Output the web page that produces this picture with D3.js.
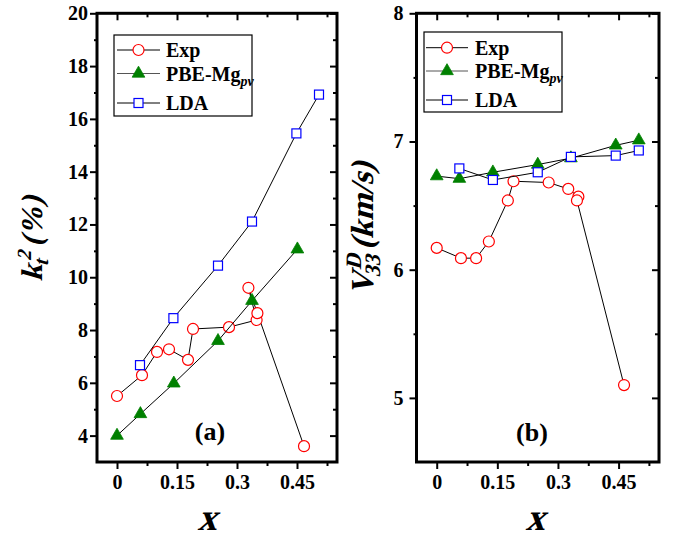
<!DOCTYPE html>
<html>
<head>
<meta charset="utf-8">
<script src="https://cdn.jsdelivr.net/npm/d3@7"></script>
<style>
  body { margin: 0; background: #fff; }
  svg { display: block; font-family: "Liberation Serif", "Times New Roman", serif; }
</style>
</head>
<body>
<svg width="680" height="538"></svg>
<script>
// panel (a): k_t^2 (%)
const expXa = [0, 0.0625, 0.1, 0.13, 0.1775, 0.19, 0.28, 0.349, 0.3285, 0.351, 0.4675];
const expYa = [5.5, 6.29, 7.17, 7.27, 6.87, 8.04, 8.11, 8.38, 9.6, 8.64, 3.6];
const pbeXa = [0, 0.0585, 0.142, 0.2525, 0.3375, 0.451];
const pbeYa = [4.0, 4.82, 5.98, 7.59, 9.11, 11.06];
const ldaXa = [0.0575, 0.141, 0.2525, 0.3375, 0.4485, 0.505];
const ldaYa = [6.67, 8.45, 10.44, 12.11, 15.45, 16.92];

// panel (b): V_33^D (km/s)
const expXb = [0, 0.06, 0.0975, 0.129, 0.176, 0.19, 0.277, 0.3255, 0.3505, 0.347, 0.4635];
const expYb = [6.17, 6.09, 6.09, 6.22, 6.54, 6.69, 6.68, 6.63, 6.57, 6.54, 5.10];
const pbeXb = [0, 0.056, 0.139, 0.25, 0.332, 0.443, 0.5];
const pbeYb = [6.73, 6.71, 6.76, 6.82, 6.87, 6.97, 7.01];
const ldaXb = [0.056, 0.139, 0.25, 0.332, 0.443, 0.5];
const ldaYb = [6.79, 6.70, 6.76, 6.88, 6.89, 6.93];

const xMajor = [0, 0.15, 0.3, 0.45];
const xMinor = [0.075, 0.225, 0.375, 0.525];
const xTickLabels = ["0", "0.15", "0.3", "0.45"];
const yMajorA = [4, 6, 8, 10, 12, 14, 16, 18, 20];
const yMinorA = [5, 7, 9, 11, 13, 15, 17, 19];
const yMajorB = [5, 6, 7, 8];
const yMinorB = [5.5, 6.5, 7.5];
const legendNames = ["Exp", "PBE-Mg", "LDA"];

const svg = d3.select("svg");
const plotTop = 13.3, plotBottom = 462;
const slant = "skewX(-16)"; // serif bold, slanted by hand for the titles

function drawAxes(g, x, y, yMajor, yMinor, yPad) {
    const [x0, x1] = x.range();
    const axisStyle = sel => {
        sel.select(".domain").remove();
        sel.selectAll("line").attr("stroke", "#000").attr("stroke-width", 2);
        sel.selectAll("text").attr("font-size", 20).attr("font-weight", "bold")
            .attr("fill", "#000").attr("font-family", "Liberation Serif");
    };
    // bottom (outward)
    g.append("g").attr("transform", `translate(0,${plotBottom})`)
        .call(d3.axisBottom(x).tickValues(xMajor).tickSize(7).tickPadding(6)
            .tickFormat((d, i) => xTickLabels[i])).call(axisStyle);
    g.append("g").attr("transform", `translate(0,${plotBottom})`)
        .call(d3.axisBottom(x).tickValues(xMinor).tickSize(4).tickFormat("")).call(axisStyle);
    // top (inward)
    g.append("g").attr("transform", `translate(0,${plotTop})`)
        .call(d3.axisTop(x).tickValues(xMajor).tickSize(-7).tickFormat("")).call(axisStyle);
    g.append("g").attr("transform", `translate(0,${plotTop})`)
        .call(d3.axisTop(x).tickValues(xMinor).tickSize(-4).tickFormat("")).call(axisStyle);
    // left (outward)
    g.append("g").attr("transform", `translate(${x0},0)`)
        .call(d3.axisLeft(y).tickValues(yMajor).tickSize(7).tickPadding(yPad).tickFormat(d3.format("d")))
        .call(axisStyle);
    g.append("g").attr("transform", `translate(${x0},0)`)
        .call(d3.axisLeft(y).tickValues(yMinor).tickSize(3).tickFormat("")).call(axisStyle);
    // right (inward)
    g.append("g").attr("transform", `translate(${x1},0)`)
        .call(d3.axisRight(y).tickValues(yMajor).tickSize(-7).tickFormat("")).call(axisStyle);
    g.append("g").attr("transform", `translate(${x1},0)`)
        .call(d3.axisRight(y).tickValues(yMinor).tickSize(-4).tickFormat("")).call(axisStyle);
    // frame
    g.append("rect").attr("x", x0).attr("y", plotTop)
        .attr("width", x1 - x0).attr("height", plotBottom - plotTop)
        .attr("fill", "none").attr("stroke", "#000").attr("stroke-width", 3);
}

const triangle = d3.symbol().type(d3.symbolTriangle).size(70);

function drawSeries(g, x, y, xs, ys, kind) {
    const pts = xs.map((d, i) => [x(d), y(ys[i])]);
    g.append("path").attr("d", d3.line()(pts))
        .attr("fill", "none").attr("stroke", "#000").attr("stroke-width", 1);
    drawMarkers(g, pts, kind);
}

function drawMarkers(g, pts, kind) {
    if (kind === "exp") {
        g.selectAll(null).data(pts).enter().append("circle")
            .attr("cx", d => d[0]).attr("cy", d => d[1]).attr("r", 5.5)
            .attr("fill", "#fff").attr("stroke", "#ff0000").attr("stroke-width", 1.2);
    } else if (kind === "pbe") {
        g.selectAll(null).data(pts).enter().append("path")
            .attr("d", triangle).attr("transform", d => `translate(${d[0]},${d[1]})`)
            .attr("fill", "#008000").attr("stroke", "#008000").attr("stroke-width", 0.8);
    } else {
        g.selectAll(null).data(pts).enter().append("rect")
            .attr("x", d => d[0] - 4.5).attr("y", d => d[1] - 4.5)
            .attr("width", 9).attr("height", 9)
            .attr("fill", "#fff").attr("stroke", "#0000ff").attr("stroke-width", 1.2);
    }
}

function drawLegend(g, bx, by, bw, bh, rows, lx0, lx1, tx) {
    g.append("rect").attr("x", bx).attr("y", by).attr("width", bw).attr("height", bh)
        .attr("fill", "#fff").attr("stroke", "#000").attr("stroke-width", 1.2);
    const kinds = ["exp", "pbe", "lda"];
    rows.forEach((ry, i) => {
        g.append("line").attr("x1", lx0).attr("x2", lx1).attr("y1", ry).attr("y2", ry)
            .attr("stroke", i === 1 ? "#555" : "#000").attr("stroke-width", 1);
        drawMarkers(g, [[(lx0 + lx1) / 2, ry]], kinds[i]);
        const t = g.append("text").attr("x", tx).attr("y", ry + 7)
            .attr("font-size", 20).attr("font-weight", "bold").text(legendNames[i]);
        if (i === 1) {
            t.append("tspan").attr("font-size", 14).attr("font-style", "italic")
                .attr("dy", 5).text("pv");
        }
    });
}

// ---- panel (a)
const xA = d3.scaleLinear().domain([-0.05, 0.55]).range([97, 337]);
const yA = d3.scaleLinear().domain([3, 20]).range([plotBottom, plotTop]);
const gA = svg.append("g");
drawAxes(gA, xA, yA, yMajorA, yMinorA, 2);
drawSeries(gA, xA, yA, expXa, expYa, "exp");
drawSeries(gA, xA, yA, pbeXa, pbeYa, "pbe");
drawSeries(gA, xA, yA, ldaXa, ldaYa, "lda");
drawLegend(gA, 114, 35, 138, 81, [50, 73.5, 103], 117, 160, 166);
gA.append("text").attr("x", 210).attr("y", 440).attr("text-anchor", "middle")
    .attr("font-size", 26).attr("font-weight", "bold").text("(a)");

const labA = gA.append("text").attr("transform", `translate(42,239) rotate(-90) ${slant}`)
    .attr("text-anchor", "middle").attr("font-weight", "bold")
    .attr("font-size", 30);
labA.append("tspan").text("k");
labA.append("tspan").attr("font-size", 20).attr("dy", 6).text("t");
labA.append("tspan").attr("font-size", 20).attr("dx", -6).attr("dy", -17).text("2");
labA.append("tspan").attr("dy", 11).text(" (%)");
gA.append("text").attr("transform", `translate(207,530) ${slant}`).attr("text-anchor", "middle")
    .attr("font-size", 38).attr("font-weight", "bold").text("x");

// ---- panel (b)
const xB = d3.scaleLinear().domain([-0.05, 0.55]).range([416.5, 659]);
const yB = d3.scaleLinear().domain([4.5, 8]).range([plotBottom, plotTop]);
const gB = svg.append("g");
drawAxes(gB, xB, yB, yMajorB, yMinorB, 6);
drawSeries(gB, xB, yB, expXb, expYb, "exp");
drawSeries(gB, xB, yB, pbeXb, pbeYb, "pbe");
drawSeries(gB, xB, yB, ldaXb, ldaYb, "lda");
drawLegend(gB, 424, 32, 138, 80, [47.7, 71, 100], 426, 468, 475);
gB.append("text").attr("x", 532).attr("y", 441).attr("text-anchor", "middle")
    .attr("font-size", 26).attr("font-weight", "bold").text("(b)");

const labB = gB.append("text").attr("transform", `translate(373,229) rotate(-90) ${slant}`)
    .attr("text-anchor", "middle").attr("font-weight", "bold")
    .attr("font-size", 32);
labB.append("tspan").text("V");
labB.append("tspan").attr("font-size", 22).attr("dx", -3).attr("dy", 7).text("33");
labB.append("tspan").attr("font-size", 22).attr("dx", -20).attr("dy", -19).text("D");
labB.append("tspan").attr("dy", 12).text(" (km/s)");
gB.append("text").attr("transform", `translate(535,530) ${slant}`).attr("text-anchor", "middle")
    .attr("font-size", 38).attr("font-weight", "bold").text("x");
</script>
</body>
</html>
